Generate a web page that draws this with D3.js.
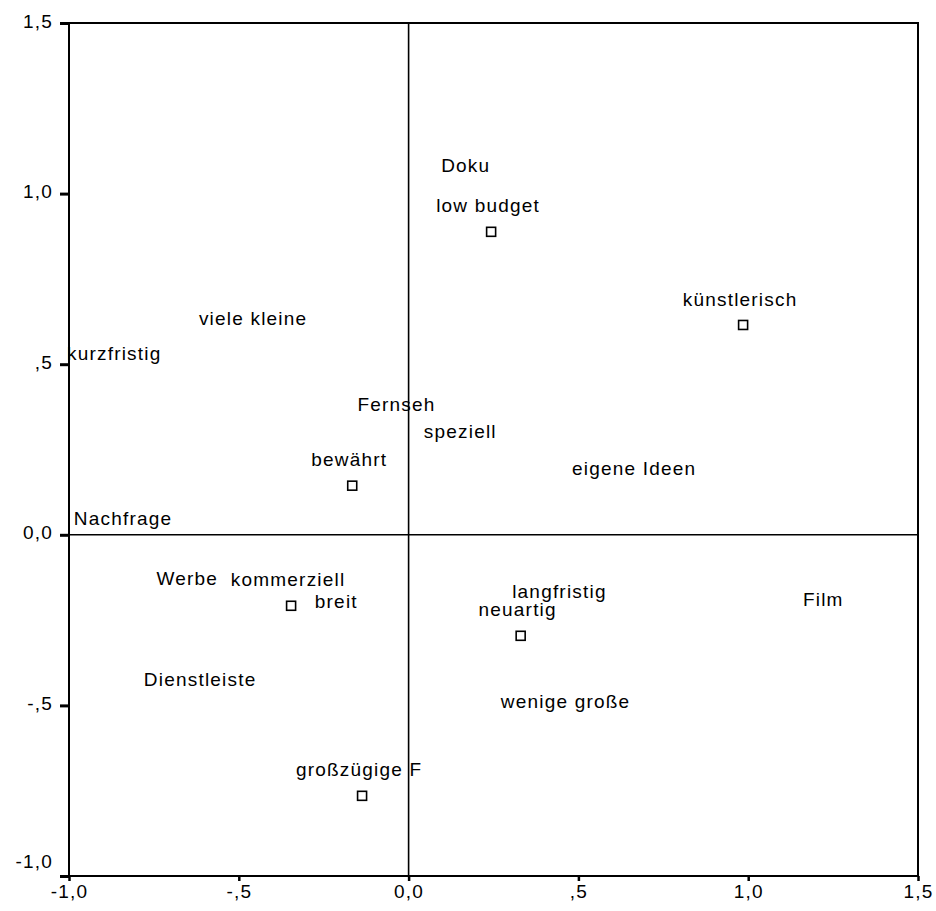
<!DOCTYPE html>
<html>
<head>
<meta charset="utf-8">
<script src="https://cdn.jsdelivr.net/npm/d3@7"></script>
<style>
  html, body { margin: 0; padding: 0; background: #fff; }
  svg { display: block; }
  text { font-family: "Liberation Sans", Arial, sans-serif; fill: #000; }
</style>
</head>
<body>
<svg id="chart" width="936" height="911"></svg>
<script>
// Category labels and their coordinates on the two dimensions
const labels = [
  "Doku", "low budget", "künstlerisch", "viele kleine", "kurzfristig",
  "Fernseh", "speziell", "bewährt", "eigene Ideen", "Nachfrage",
  "Werbe", "kommerziell", "breit", "langfristig", "neuartig",
  "Film", "Dienstleiste", "wenige große", "großzügige F"
];
const dim1 = [
  0.177, 0.243, 0.985, -0.449, -0.858,
  -0.027, 0.161, -0.166, 0.673, -0.832,
  -0.643, -0.346, -0.204, 0.453, 0.330,
  1.230, -0.605, 0.471, -0.137
];
const dim2 = [
  1.008, 0.888, 0.615, 0.557, 0.457,
  0.305, 0.226, 0.144, 0.120, -0.029,
  -0.205, -0.208, -0.270, -0.243, -0.296,
  -0.264, -0.501, -0.563, -0.765
];
// 1 = drawn with a square marker, 0 = label only
const marked = [
  0, 1, 1, 0, 0,
  0, 0, 1, 0, 0,
  0, 1, 0, 0, 1,
  0, 0, 0, 1
];

const xTicks = [-1.0, -0.5, 0.0, 0.5, 1.0, 1.5];
const xTickLabels = ["-1,0", "-,5", "0,0", ",5", "1,0", "1,5"];
const yTicks = [-1.0, -0.5, 0.0, 0.5, 1.0, 1.5];
const yTickLabels = ["-1,0", "-,5", "0,0", ",5", "1,0", "1,5"];

const svg = d3.select("#chart");
const plotLeft = 69, plotRight = 918, plotTop = 23, plotBottom = 876;

const x = d3.scaleLinear().domain([-1.0, 1.5]).range([plotLeft, plotRight]);
const y = d3.scaleLinear().domain([-1.0, 1.5]).range([plotBottom, plotTop]);

const fontSize = 19;
const spacing = 1.2;

// Zero reference lines
svg.append("line")
  .attr("x1", x(0)).attr("x2", x(0))
  .attr("y1", plotTop).attr("y2", plotBottom)
  .attr("stroke", "#000").attr("stroke-width", 1.6);
svg.append("line")
  .attr("x1", plotLeft).attr("x2", plotRight)
  .attr("y1", y(0)).attr("y2", y(0))
  .attr("stroke", "#000").attr("stroke-width", 1.6);

// Point labels, centred a little above each point
const pts = d3.range(labels.length).map(i => ({
  label: labels[i], v1: dim1[i], v2: dim2[i], mark: marked[i]
}));

svg.append("g").selectAll("text")
  .data(pts)
  .join("text")
  .attr("x", d => x(d.v1) - 3)
  .attr("y", d => y(d.v2) - 26)
  .attr("dy", "0.35em")
  .attr("text-anchor", "middle")
  .attr("font-size", fontSize)
  .attr("letter-spacing", spacing)
  .text(d => d.label);

// Square markers
svg.append("g").selectAll("rect")
  .data(pts.filter(d => d.mark))
  .join("rect")
  .attr("x", d => x(d.v1) - 4.5)
  .attr("y", d => y(d.v2) - 4.5)
  .attr("width", 9).attr("height", 9)
  .attr("fill", "#fff")
  .attr("stroke", "#000")
  .attr("stroke-width", 1.6);

// Frame (left and bottom axes plus top/right border)
svg.append("rect")
  .attr("x", plotLeft).attr("y", plotTop)
  .attr("width", plotRight - plotLeft).attr("height", plotBottom - plotTop)
  .attr("fill", "none")
  .attr("stroke", "#000")
  .attr("stroke-width", 2);

// Y axis
const yAxis = d3.axisLeft(y)
  .tickValues(yTicks)
  .tickSize(9)
  .tickPadding(7)
  .tickFormat((d, i) => yTickLabels[i]);
const gy = svg.append("g").attr("transform", `translate(${plotLeft},0)`).call(yAxis);
gy.select(".domain").remove();
gy.selectAll(".tick line").attr("stroke", "#000").attr("stroke-width", 3);
gy.selectAll(".tick text")
  .attr("font-size", fontSize)
  .attr("letter-spacing", spacing)
  .attr("font-family", "Liberation Sans, Arial, sans-serif")
  .attr("fill", "#000")
  // lift the lowest label clear of the x-axis labels
  .attr("transform", d => d === yTicks[0] ? "translate(0,-15)" : "translate(0,-2)");

// X axis
const xAxis = d3.axisBottom(x)
  .tickValues(xTicks)
  .tickSize(5)
  .tickPadding(4)
  .tickFormat((d, i) => xTickLabels[i]);
const gx = svg.append("g").attr("transform", `translate(0,${plotBottom})`).call(xAxis);
gx.select(".domain").remove();
gx.selectAll(".tick line").attr("stroke", "#000").attr("stroke-width", 2.5);
gx.selectAll(".tick text")
  .attr("font-size", fontSize)
  .attr("letter-spacing", spacing)
  .attr("font-family", "Liberation Sans, Arial, sans-serif")
  .attr("fill", "#000");
</script>
</body>
</html>
